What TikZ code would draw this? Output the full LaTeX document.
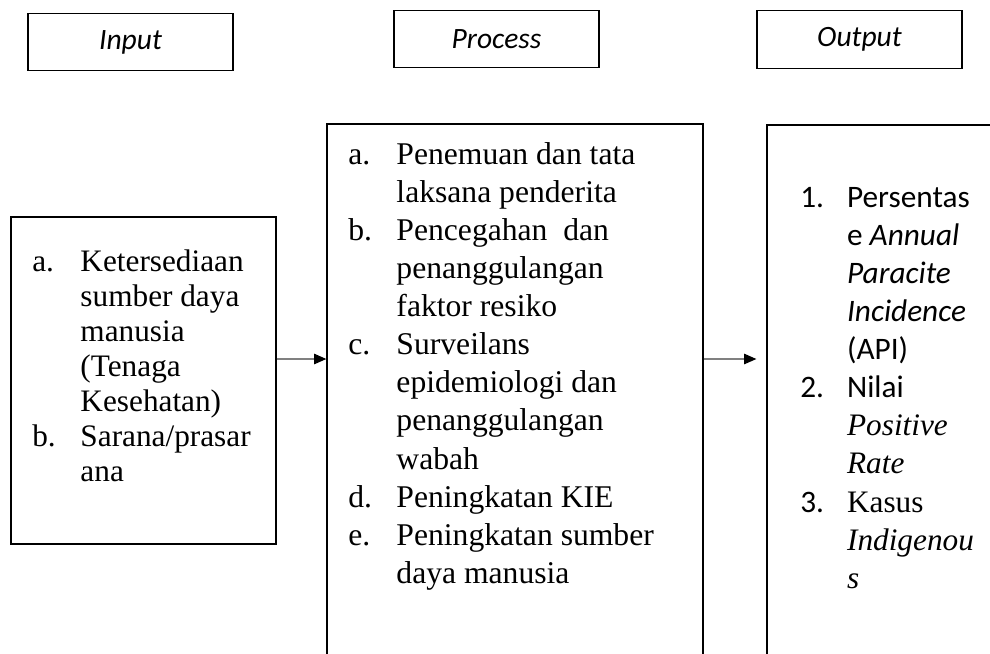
\documentclass[tikz,border=0pt]{standalone}
\usepackage{fontspec}
\usepackage{array}
\setmainfont{Liberation Serif}
\newfontfamily\calibri{Carlito}
\usetikzlibrary{arrows.meta}

\begin{document}
\begin{tikzpicture}[x=0.02cm,y=-0.02cm,
    headbox/.style={draw,line width=0.8pt,minimum width=4.1cm,minimum height=1.15cm,
      inner sep=0pt,font=\calibri\itshape\fontsize{16.8}{19}\selectfont},
    mainbox/.style={draw,line width=0.8pt,inner sep=0pt},
    itemlist/.style={anchor=north west,inner sep=0pt,align=left},
    flow/.style={gray,line width=0.6pt,-{Triangle[length=7pt,width=6pt,color=black]}}]
    \useasboundingbox (0,0) rectangle (990,653);

    % heading boxes
    \node[headbox] (inhead) at (130.5,42) {Input};
    \node[headbox] (prochead) at (496.5,39) {Process};
    \node[headbox] (outhead) at (859.5,39.5) {Output};

    % main boxes (process and output run past the page edge)
    \node[mainbox,minimum width=5.3cm,minimum height=6.54cm] (inbox) at (143.5,380.5) {};
    \node[mainbox,minimum width=7.52cm,minimum height=11.52cm] (procbox) at (515,412) {};
    \node[mainbox,minimum width=5.66cm,minimum height=11.5cm] (outbox) at (908.5,412.5) {};

    % input items
    \node[itemlist] (initems) at (32,247) {\fontsize{17.8}{19.9}\selectfont
      \begin{tabular}{@{}p{27.4pt}@{}l@{}}
        a. & Ketersediaan\\
           & sumber daya\\
           & manusia\\
           & (Tenaga\\
           & Kesehatan)\\
        b. & Sarana/prasar\\
           & ana
      \end{tabular}};

    % process items
    \node[itemlist] (procitems) at (348,137) {\fontsize{18}{21.7}\selectfont
      \begin{tabular}{@{}p{27.4pt}@{}l@{}}
        a. & Penemuan dan tata\\
           & laksana penderita\\
        b. & Pencegahan \ dan\\
           & penanggulangan\\
           & faktor resiko\\
        c. & Surveilans\\
           & epidemiologi dan\\
           & penanggulangan\\
           & wabah\\
        d. & Peningkatan KIE\\
        e. & Peningkatan sumber\\
           & daya manusia
      \end{tabular}};

    % output items
    \node[itemlist] (outitems) at (800,180) {\fontsize{17.8}{21.7}\selectfont
      \begin{tabular}{@{}>{\calibri}p{26.6pt}@{}l@{}}
        1. & \calibri Persentas\\
           & \calibri e \textit{Annual}\\
           & \calibri\itshape Paracite\\
           & \calibri\itshape Incidence\\
           & \calibri (API)\\
        2. & \calibri Nilai\\
           & \textit{Positive}\\
           & \textit{Rate}\\
        3. & Kasus\\
           & \textit{Indigenou}\\
           & \textit{s}
      \end{tabular}};

    % arrows
    \draw[flow] (inbox.east |- 0,359) -- (procbox.west |- 0,359);
    \draw[flow,shorten >=10pt*0.567] (procbox.east |- 0,359) -- (outbox.west |- 0,359);
\end{tikzpicture}
\end{document}
